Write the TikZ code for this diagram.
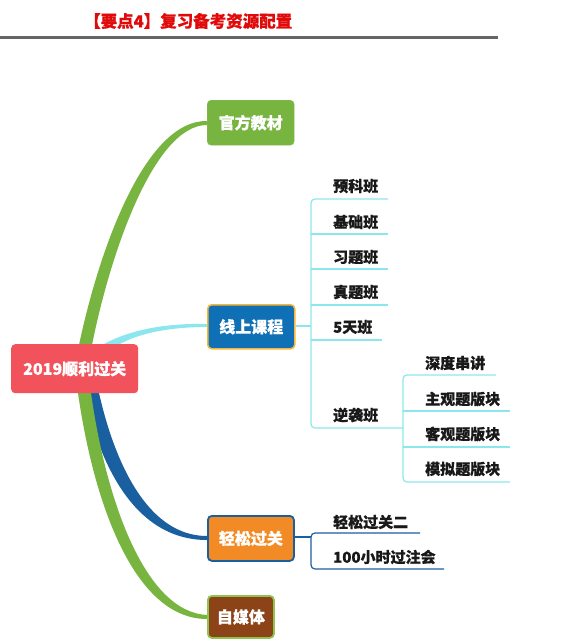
\documentclass[tikz,border=0pt]{standalone}
\usepackage{fontspec}
\setmainfont{Noto Sans CJK SC}[BoldFeatures={FakeBold=0.6}]
\begin{document}
\definecolor{rootred}{HTML}{F2525C}
\definecolor{grn}{HTML}{78B440}
\definecolor{bluebox}{HTML}{1070B6}
\definecolor{goldb}{HTML}{F3B73C}
\definecolor{orangebox}{HTML}{F28A25}
\definecolor{darkblue}{HTML}{1A5FA0}
\definecolor{brown}{HTML}{8B4317}
\definecolor{lgrn}{HTML}{8FC44E}
\definecolor{cyanl}{HTML}{8CE6EE}
\definecolor{titlered}{HTML}{E00A0A}
\begin{tikzpicture}[x=1pt,y=-1pt,
  mainbox/.style={rounded corners=4pt, text=white, font=\fontsize{16}{16}\selectfont\bfseries, inner sep=0pt, anchor=north west},
  leaf/.style={anchor=west, inner sep=0pt, font=\fontsize{15}{15}\selectfont\bfseries, text=black!90},
  cyanline/.style={draw=cyanl, line width=1.2pt},
  dbline/.style={draw=darkblue, line width=1.2pt}]
\useasboundingbox (0,0) rectangle (580,641);
% title
\node[text=titlered, font=\fontsize{16.5}{16.5}\selectfont\bfseries, anchor=west, inner sep=0pt] (title) at (84,21) {【要点4】复习备考资源配置};
\fill[gray!80!black] (0,35.5) rectangle (498,38.5);
% branches
\fill[cyanl] (104,344) .. controls (130,330) and (165,323) .. (207,324) -- (207,327) .. controls (170,327) and (140,333) .. (120,344) -- cycle;
\fill[grn] (79,345) .. controls (99,250) and (145,120) .. (207,121) -- (207,125) .. controls (155,125) and (111,250) .. (92,345) -- cycle;
\fill[darkblue] (84,393) .. controls (102,475) and (140,540) .. (207,540) -- (207,536) .. controls (150,536) and (116,468) .. (99,393) -- cycle;
\fill[grn] (78,393) .. controls (94,505) and (135,619) .. (207,619) -- (207,615) .. controls (145,612) and (106,500) .. (91,393) -- cycle;
% boxes
\node[mainbox, fill=rootred, minimum width=127pt, minimum height=49pt] (root) at (11,344) {2019顺利过关};
\node[mainbox, fill=grn, draw=grn!85!white, minimum width=87pt, minimum height=45pt] (gf) at (207,100) {官方教材};
\node[mainbox, fill=bluebox, draw=goldb, line width=1.5pt, minimum width=87pt, minimum height=44pt] (xs) at (207,304) {线上课程};
\node[mainbox, fill=orangebox, draw=darkblue, line width=1.8pt, minimum width=86pt, minimum height=45pt] (qs) at (207,515) {轻松过关};
\node[mainbox, fill=brown, draw=lgrn, line width=1.8pt, minimum width=66pt, minimum height=42pt] (zm) at (207,595) {自媒体};
% online course children
\node[leaf] (c1) at (333,186) {预科班};
\node[leaf] (c2) at (333,222) {基础班};
\node[leaf] (c3) at (333,257) {习题班};
\node[leaf] (c4) at (333,292) {真题班};
\node[leaf] (c5) at (333,327) {5天班};
\node[leaf] (c6) at (333,415) {逆袭班};
\coordinate (j1) at (311,326);
\coordinate (j2) at (403,428);
\draw[cyanline] (xs.east |- j1) -- (j1);
\draw[cyanline, rounded corners=4pt] (388,199) -- (311,199) -- (311,428) -- (j2);
\draw[cyanline] (311,234) -- (388,234);
\draw[cyanline] (311,269) -- (388,269);
\draw[cyanline] (311,305) -- (388,305);
\draw[cyanline] (311,340) -- (382,340);
% nixi children
\node[leaf] (d1) at (425,363) {深度串讲};
\node[leaf] (d2) at (425,399) {主观题版块};
\node[leaf] (d3) at (425,434) {客观题版块};
\node[leaf] (d4) at (425,469) {模拟题版块};
\draw[cyanline, rounded corners=4pt] (496,375) -- (403,375) -- (403,482) -- (510,482);
\draw[cyanline] (403,411) -- (510,411);
\draw[cyanline] (403,447) -- (510,447);
% qingsong children
\node[leaf] (e1) at (333,522) {轻松过关二};
\node[leaf] (e2) at (333,557) {100小时过注会};
\coordinate (j3) at (311,537);
\draw[dbline] (qs.east |- j3) -- (j3);
\draw[dbline, rounded corners=4pt] (420,533) -- (311,533) -- (311,569) -- (444,569);
\end{tikzpicture}
\end{document}
